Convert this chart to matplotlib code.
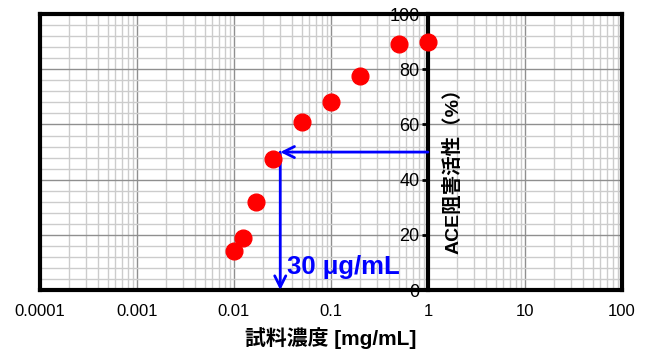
import matplotlib
matplotlib.use("Agg")
import numpy as np
from matplotlib import pyplot as plt
from matplotlib.ticker import LogLocator, FixedLocator, MultipleLocator, NullFormatter

plt.rcParams["font.family"] = ["Liberation Sans", "Noto Sans CJK JP", "DejaVu Sans"]

# measured points
concentration = [0.01, 0.0125, 0.0167, 0.025, 0.05, 0.1, 0.2, 0.5, 1.0]
inhibition = [14.0, 19.0, 32.0, 47.5, 61.0, 68.0, 77.5, 89.0, 90.0]

# IC50 read-off
ic50_x = 0.03
ic50_y = 50
ic50_label = "30 μg/mL"

x_ticks = [0.0001, 0.001, 0.01, 0.1, 1, 10, 100]
x_tick_labels = ["0.0001", "0.001", "0.01", "0.1", "1", "10", "100"]
y_ticks = [0, 20, 40, 60, 80, 100]

fig = plt.figure(figsize=(6.51, 3.52), dpi=100)
ax = fig.add_axes([0.0614, 0.176, 0.894, 0.784])

ax.set_xscale("log")
ax.set_xlim(x_ticks[0], x_ticks[-1])
ax.set_ylim(y_ticks[0], y_ticks[-1])

# grid
ax.xaxis.set_major_locator(FixedLocator(x_ticks))
ax.xaxis.set_minor_locator(LogLocator(base=10, subs=np.arange(2, 10)))
ax.xaxis.set_minor_formatter(NullFormatter())
ax.set_xticklabels(x_tick_labels)
ax.yaxis.set_major_locator(FixedLocator(y_ticks))
ax.yaxis.set_minor_locator(MultipleLocator(4))
ax.grid(which="major", color="#8f8f8f", linewidth=1.0)
ax.grid(which="minor", color="#cccccc", linewidth=1.0)
ax.set_axisbelow(True)

# y axis sits at x = 1
ax.spines["left"].set_position(("data", 1))
for side in ["left", "right", "top", "bottom"]:
    ax.spines[side].set_linewidth(3)
    ax.spines[side].set_color("black")
ax.axvline(x_ticks[0], color="black", linewidth=3, clip_on=False, zorder=5)

ax.tick_params(axis="y", which="major", direction="out", length=4, width=2,
               labelsize=13, pad=2)
ax.tick_params(axis="y", which="minor", length=0)
ax.tick_params(axis="x", which="both", length=0, labelsize=12, pad=10)

ax.scatter(concentration, inhibition, s=145, color="red", zorder=6, clip_on=False)

# arrows
ax.annotate("", xy=(ic50_x, ic50_y), xytext=(1, ic50_y),
            arrowprops=dict(arrowstyle="->", color="blue", lw=2, mutation_scale=20,
                            shrinkA=0, shrinkB=0), zorder=4)
ax.annotate("", xy=(ic50_x, 0), xytext=(ic50_x, ic50_y),
            arrowprops=dict(arrowstyle="->", color="blue", lw=2, mutation_scale=20,
                            shrinkA=0, shrinkB=0), zorder=4)
ax.text(ic50_x * 1.16, 8.3, ic50_label, color="blue", fontsize=18.5, fontweight="bold",
        ha="left", va="center", zorder=7)

ax.set_xlabel("試料濃度 [mg/mL]", fontsize=15, fontweight="bold", labelpad=6)
ax.text(1.8, 45, "ACE阻害活性（%）", rotation=90, fontsize=14, fontweight="bold",
        ha="center", va="center")

fig.savefig("out.png", dpi=100, facecolor="white")
